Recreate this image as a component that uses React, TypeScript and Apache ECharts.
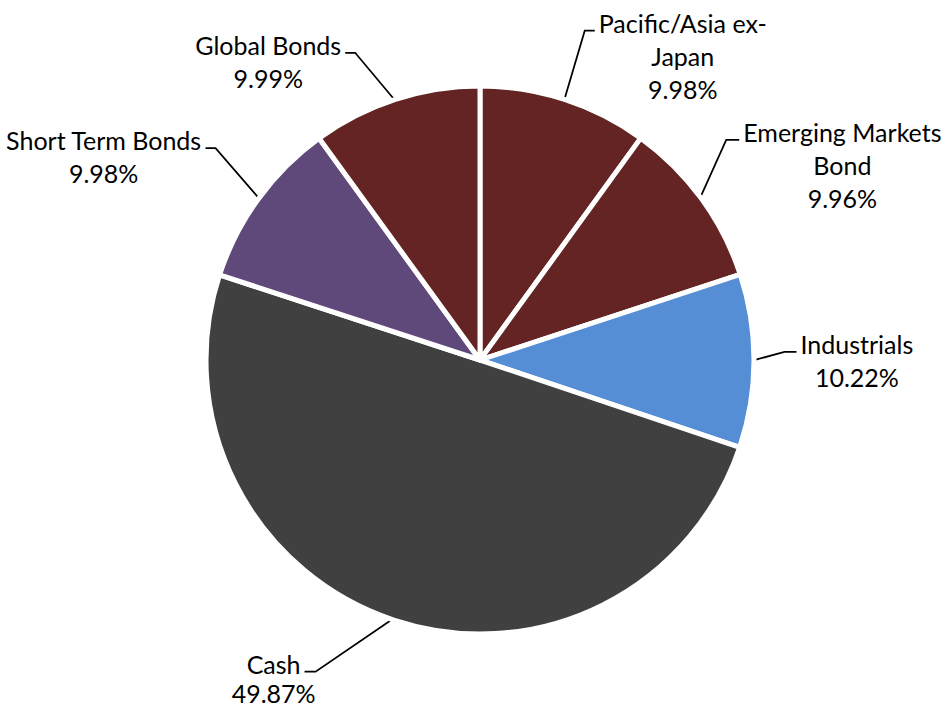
import React, { useEffect, useRef } from 'react';
import * as echarts from 'echarts';

const categories = ['Pacific/Asia ex-Japan', 'Emerging Markets Bond', 'Industrials', 'Cash', 'Short Term Bonds', 'Global Bonds'];
const labelLines = [['Pacific/Asia ex-', 'Japan'], ['Emerging Markets', 'Bond'], ['Industrials'], ['Cash'], ['Short Term Bonds'], ['Global Bonds']];
const values = [9.98, 9.96, 10.22, 49.87, 9.98, 9.99];
const colors = ['#632423', '#632423', '#558ED5', '#404040', '#5F497A', '#632423'];

// leader line shape relative to slice edge: [dx to elbow, dy to elbow, horizontal length]
const leaders = [
  [21, -71, 10],
  [27, -60, 13],
  [33, -9, 12],
  [-79, 54, 11],
  [-45, -52, 10],
  [-41, -49, 10],
];
// per-label line height (the bottom label is kept inside the page)
const lineHeights = [33, 33, 33, 29, 33, 33];

const CX = 480;
const CY = 360;
const R = 274;
const BORDER = 5;
const FONT = 'Lato';
const FS = 25;
const GAP = 4;
const BASE_OFF = 8;

function measure(t: string): number {
  const c = document.createElement('canvas').getContext('2d');
  if (!c) return t.length * FS * 0.5;
  c.font = `${FS}px ${FONT}`;
  return c.measureText(t).width;
}

function edgePoint(i: number): [number, number] {
  const total = values.reduce((a, b) => a + b, 0);
  let before = 0;
  for (let k = 0; k < i; k++) before += values[k];
  const mid = (before + values[i] / 2) / total;
  const a = mid * Math.PI * 2;
  const r = R - BORDER / 2;
  return [CX + r * Math.sin(a), CY - r * Math.cos(a)];
}

export default function App() {
  const ref = useRef<HTMLDivElement>(null);
  useEffect(() => {
    if (!ref.current) return;
    const chart = echarts.init(ref.current, undefined, { renderer: 'svg' });
    chart.setOption({
      animation: false,
      backgroundColor: '#fff',
      series: [
        {
          type: 'pie',
          center: [CX, CY],
          radius: R,
          startAngle: 90,
          clockwise: true,
          avoidLabelOverlap: false,
          itemStyle: { borderColor: '#fff', borderWidth: BORDER },
          label: {
            show: true,
            position: 'outside',
            color: '#000',
            fontFamily: FONT,
            fontSize: FS,
            formatter: (p: any) => [...labelLines[p.dataIndex], values[p.dataIndex].toFixed(2) + '%'].join('\n'),
          },
          labelLine: { show: true, lineStyle: { color: '#000', width: 1.75 } },
          labelLayout: (params: any) => {
            const i = params.dataIndex;
            const lh = lineHeights[i];
            const [p0x, p0y] = edgePoint(i);
            const [dx, dy, l2] = leaders[i];
            const jx = p0x + dx;
            const jy = p0y + dy;
            const side = dx < 0 ? -1 : 1;
            const ex = jx + side * l2;
            const ey = jy;
            const w1 = measure(labelLines[i][0]);
            return {
              x: ex + side * (GAP + w1 / 2),
              y: ey - BASE_OFF - lh / 2,
              align: 'center',
              verticalAlign: 'top',
              labelLinePoints: [[p0x, p0y], [jx, jy], [ex, ey]],
            };
          },
          data: categories.map((name, i) => ({
            name,
            value: values[i],
            itemStyle: { color: colors[i] },
            label: { lineHeight: lineHeights[i] },
          })),
        },
      ],
    });
    return () => chart.dispose();
  }, []);
  return <div ref={ref} style={{ position: 'absolute', left: 0, top: 0, width: 944, height: 707 }} />;
}
